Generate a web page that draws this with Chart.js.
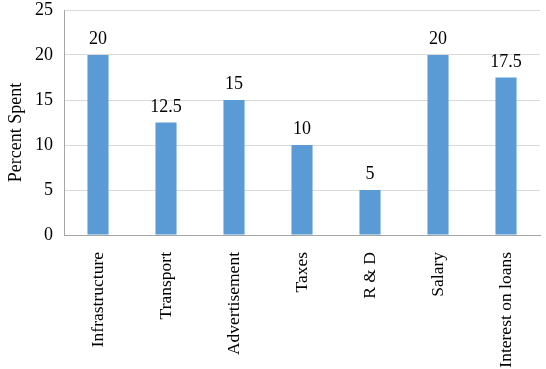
<!DOCTYPE html>
<html><head><meta charset="utf-8">
<script src="https://cdn.jsdelivr.net/npm/chart.js@4"></script>
<style>html,body{margin:0;padding:0;background:#fff}#w{width:546px;height:369px}</style>
</head><body><div id="w"><canvas id="c"></canvas></div>
<script>
const categories = ["Infrastructure","Transport","Advertisement","Taxes","R & D","Salary","Interest on loans"];
const values = [20,12.5,15,10,5,20,17.5];
const valueLabels = ["20","12.5","15","10","5","20","17.5"];
const yTicks = [0,5,10,15,20,25];
const yTitle = 'Percent Spent';
const FONT = '"Liberation Serif", "Times New Roman", serif';

const labelPlugin = {
  id:'vl',
  afterDatasetsDraw(chart){
    const ctx = chart.ctx;
    const meta = chart.getDatasetMeta(0);
    ctx.save();
    ctx.font = '18px ' + FONT;
    ctx.fillStyle = '#000';
    ctx.textAlign = 'center';
    ctx.textBaseline = 'alphabetic';
    meta.data.forEach((b,i)=>{ ctx.fillText(valueLabels[i], b.x, b.y - 11); });
    // y axis title
    const a = chart.chartArea;
    ctx.translate(16, (a.top + a.bottom)/2 + 10);
    ctx.rotate(-Math.PI/2);
    ctx.textBaseline = 'middle';
    ctx.fillText(yTitle, 0, 0);
    ctx.restore();
  }
};

new Chart(document.getElementById('c'),{
  type:'bar',
  data:{labels:categories,datasets:[{data:values,backgroundColor:'#5B9BD5',barPercentage:0.31,categoryPercentage:1}]},
  options:{
    responsive:true, maintainAspectRatio:false, animation:false,
    layout:{padding:{top:10,right:6,left:0,bottom:0}},
    plugins:{legend:{display:false},tooltip:{enabled:false}},
    scales:{
      x:{
        grid:{display:false},
        border:{color:'#a6a6a6'},
        afterFit(a){ a.height = 134; a.paddingTop = 0; },
        ticks:{minRotation:90,maxRotation:90,color:'#000',padding:9,font:{family:FONT,size:17.5}}
      },
      y:{
        min:0,max:25,
        afterBuildTicks(axis){ axis.ticks = yTicks.map(v=>({value:v})); },
        afterFit(a){ a.width = 64; a.paddingTop = 0; a.paddingBottom = 0; },
        grid:{color:'#d9d9d9',drawTicks:false},
        border:{color:'#a6a6a6'},
        ticks:{color:'#000',padding:11,font:{family:FONT,size:18}},
        title:{display:false}
      }
    }
  },
  plugins:[labelPlugin]
});
</script></body></html>
